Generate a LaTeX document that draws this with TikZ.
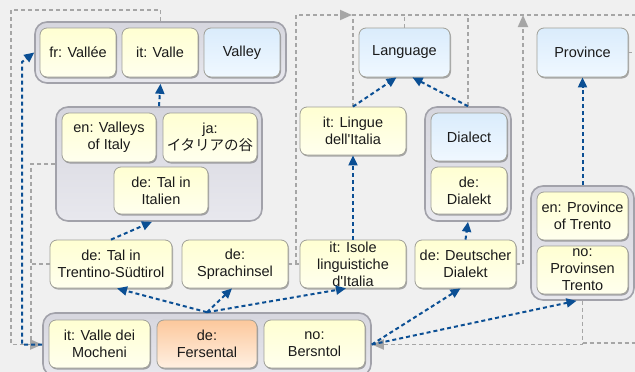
\documentclass[tikz,border=0pt]{standalone}
\usepackage{fontspec}
\setmainfont{Liberation Sans}[Ligatures=TeXOff]
\newfontfamily\cjk{Noto Sans CJK JP}
\usetikzlibrary{arrows.meta,shadows}
\definecolor{bg}{HTML}{F0F0F0}
\definecolor{txt}{HTML}{1A1A1A}
\definecolor{boxline}{HTML}{A0A098}
\definecolor{yelT}{HTML}{FFFFD2}
\definecolor{yelB}{HTML}{FFFFEE}
\definecolor{bluT}{HTML}{DAECFC}
\definecolor{bluB}{HTML}{F0F8FF}
\definecolor{orgT}{HTML}{FCC89C}
\definecolor{orgB}{HTML}{FFF0E2}
\definecolor{grpT}{HTML}{D6D6DE}
\definecolor{grpB}{HTML}{E8E8EE}
\definecolor{grpline}{HTML}{A2A2AA}
\definecolor{blu}{HTML}{0B4F94}
\definecolor{gry}{HTML}{A6A6A6}
\tikzset{
  base/.style={rounded corners=7pt, draw=boxline, line width=0.8pt, align=center,
    inner sep=0pt, font=\fontsize{14.5}{17}\selectfont, text=txt,
    drop shadow={shadow xshift=1pt, shadow yshift=-1.5pt, opacity=0.3, fill=black}},
  ybox/.style={base, top color=yelT, bottom color=yelB},
  bbox/.style={base, top color=bluT, bottom color=bluB},
  obox/.style={base, top color=orgT, bottom color=orgB},
  grp/.style={rounded corners=12pt, draw=grpline, line width=1.6pt,
    top color=grpT, bottom color=grpB, inner sep=0pt},
  bl/.style={draw=blu, line width=2pt, dash pattern=on 4pt off 3pt,
    -{Triangle[length=10pt,width=9pt]}},
  gl/.style={draw=gry, line width=1.8pt, dash pattern=on 4pt off 3pt},
  gla/.style={gl, -{Triangle[length=12pt,width=10pt]}},
}
\begin{document}
\begin{tikzpicture}[x=1pt,y=-1pt]
\fill[bg] (0,0) rectangle (635,372);
\useasboundingbox (0,0) rectangle (635,372);

% groups
\node[grp, minimum width=251, minimum height=61] (g1) at (160.5,52.5) {};
\node[grp, minimum width=206, minimum height=114] (g2) at (159,164) {};
\node[grp, minimum width=86, minimum height=114] (dg) at (468,164) {};
\node[grp, minimum width=103, minimum height=114] (pg) at (582.5,243) {};
\node[grp, minimum width=328, minimum height=63] (bot) at (207,344.5) {};

% boxes
\node[ybox, minimum width=76, minimum height=49] (fr) at (78,52.5) {fr: Vallée};
\node[ybox, minimum width=76, minimum height=49] (itv) at (160,52.5) {it: Valle};
\node[bbox, minimum width=76, minimum height=49] (valley) at (242,52.5) {Valley};

\node[ybox, minimum width=94, minimum height=49] (env) at (109,137.5) {en: Valleys\\of Italy};
\node[ybox, minimum width=94, minimum height=49] (ja) at (210,137.5) {ja:\\{\cjk イタリアの谷}};
\node[ybox, minimum width=94, minimum height=47] (dti) at (161,190.5) {de: Tal in\\Italien};

\node[ybox, minimum width=122, minimum height=48] (tal) at (111,264) {de: Tal in\\Trentino-Südtirol};
\node[ybox, minimum width=106, minimum height=48] (sp) at (235,264) {de:\\Sprachinsel};
\node[ybox, minimum width=106, minimum height=48] (isole) at (353,264) {it: Isole\\linguistiche\\d'Italia};
\node[ybox, minimum width=101, minimum height=48] (dd) at (465.5,264) {de: Deutscher\\Dialekt};

\node[ybox, minimum width=106, minimum height=48] (ling) at (353,131) {it: Lingue\\dell'Italia};
\node[bbox, minimum width=91, minimum height=49] (lang) at (404.5,52.5) {Language};
\node[bbox, minimum width=76, minimum height=48] (dial) at (469,137) {Dialect};
\node[ybox, minimum width=76, minimum height=47] (ddk) at (469,190.5) {de:\\Dialekt};

\node[bbox, minimum width=91, minimum height=49] (prov) at (582.5,52.5) {Province};
\node[ybox, minimum width=91, minimum height=48] (enp) at (582.5,216) {en: Province\\of Trento};
\node[ybox, minimum width=91, minimum height=48] (nop) at (582.5,270) {no:\\Provinsen\\Trento};

\node[ybox, minimum width=101, minimum height=48] (moch) at (99.5,344) {it: Valle dei\\Mocheni};
\node[obox, minimum width=100, minimum height=48] (fers) at (207,344) {de:\\Fersental};
\node[ybox, minimum width=101, minimum height=48] (bers) at (314.5,344) {no:\\Bersntol};

% free-end coordinates
\coordinate (tl) at (11,10);
\coordinate (lx) at (31,343);
\coordinate (bx) at (22,62);
\coordinate (mx) at (296,264);
\coordinate (top1) at (352,15);
\coordinate (topR) at (640,15);
\coordinate (up1) at (523,15);
\coordinate (provR) at (640,52.5);
\coordinate (botR) at (640,343);
\coordinate (pgx) at (582.5,343);

% gray lines
\draw[gla] (g1.north) |- (tl) |- (bot.west);
\draw[gl] (g2.west) -| (lx);
\draw[gl] (tal.west) -- (31,264);
\draw[gl] (sp.east) -- (isole.west);
\draw[gla] (mx) |- (top1);
\draw[gl] (top1) -- (topR);
\draw[gl] (ling.north) -- (353,15);
\draw[gl] (lang.north) -- (404.5,15);
\draw[gl] (dg.north) -- (468,15);
\draw[gla] (dd.east) -| (up1);
\draw[gl] (prov.east) -- (provR);
\draw[gla] (pg.south) |- (bot.east);
\draw[gl] (pgx) -- (botR);

% blue arrows
\draw[bl] (bot.west) -| (bx) -- (g1.west);
\draw[bl] (g2.north) -- (g1.south);
\draw[bl] (tal.north) -- ([xshift=-7pt]g2.south);
\draw[bl] (bot.north) -- ([xshift=6pt]tal.south);
\draw[bl] (bot.north) -- ([xshift=-3pt]sp.south);
\draw[bl] (bot.north) -- ([xshift=-7pt]isole.south);
\draw[bl] (isole.north) -- (ling.south);
\draw[bl] (ling.north) -- ([xshift=-8pt]lang.south);
\draw[bl] (dg.north) -- ([xshift=8pt]lang.south);
\draw[bl] (dd.north) -- (dg.south);
\draw[bl] (bot.east) -- ([xshift=-5pt]dd.south);
\draw[bl] (bot.east) -- ([xshift=-6pt]pg.south);
\draw[bl] (pg.north) -- (prov.south);
\end{tikzpicture}
\end{document}
